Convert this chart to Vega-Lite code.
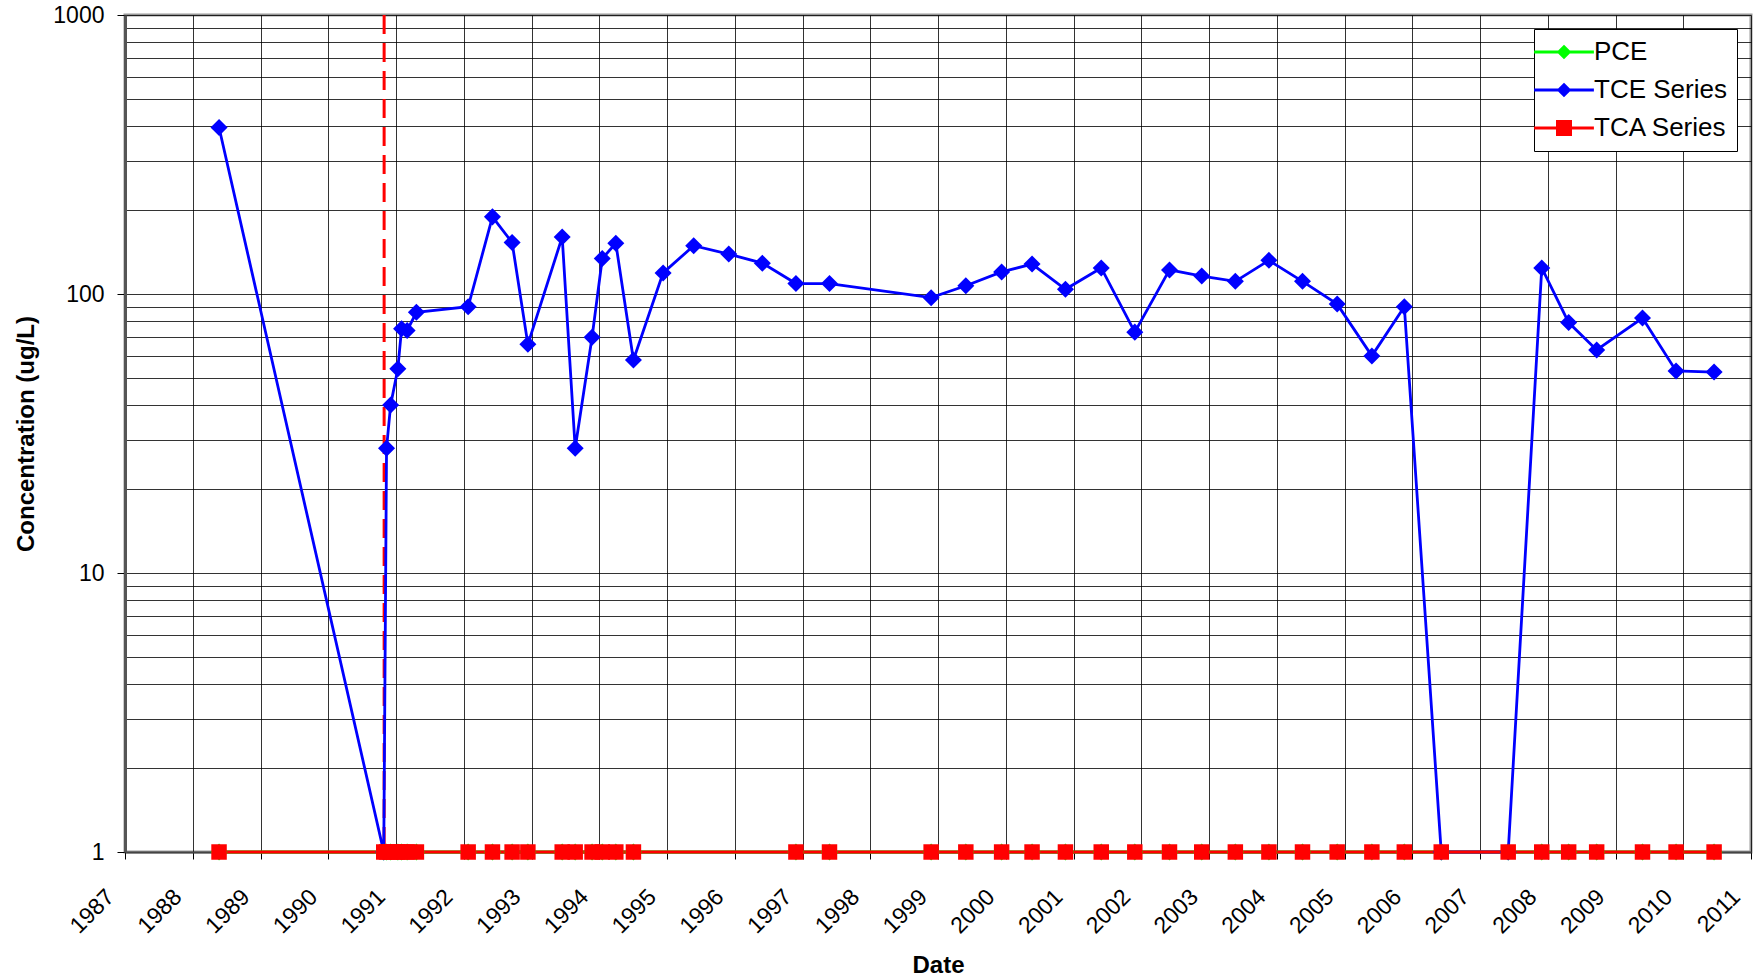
{
  "$schema": "https://vega.github.io/schema/vega-lite/v6.json",
  "width": 1626,
  "height": 837,
  "autosize": {"type": "none"},
  "padding": {"left": 125, "top": 15, "right": 3, "bottom": 125},
  "background": "white",
  "config": {
    "font": "Liberation Sans",
    "view": {"stroke": "#999999", "strokeWidth": 3},
    "axis": {
      "labelFont": "Liberation Sans",
      "labelFontSize": 23,
      "labelColor": "#000000",
      "titleFont": "Liberation Sans",
      "titleFontSize": 24,
      "titleFontWeight": "bold",
      "titleColor": "#000000",
      "tickColor": "#000000",
      "gridColor": "#000000",
      "gridOpacity": 0.8,
      "gridWidth": 1,
      "zindex": 0
    },
    "legend": {
      "orient": "top-right",
      "offset": 14,
      "padding": 10,
      "strokeColor": "#000000",
      "fillColor": "#FFFFFF",
      "labelFont": "Liberation Sans",
      "labelFontSize": 26,
      "labelColor": "#000000",
      "labelOffset": 17,
      "symbolOffset": 7,
      "rowPadding": 12,
      "symbolSize": 169,
      "symbolStrokeWidth": 3
    }
  },
  "datasets": {
    "measurements": [
      {"date": "1988-05-22", "series": "PCE", "value": 1},
      {"date": "1990-10-27", "series": "PCE", "value": 1},
      {"date": "1990-11-11", "series": "PCE", "value": 1},
      {"date": "1990-12-03", "series": "PCE", "value": 1},
      {"date": "1991-01-11", "series": "PCE", "value": 1},
      {"date": "1991-01-31", "series": "PCE", "value": 1},
      {"date": "1991-03-02", "series": "PCE", "value": 1},
      {"date": "1991-04-21", "series": "PCE", "value": 1},
      {"date": "1992-01-25", "series": "PCE", "value": 1},
      {"date": "1992-06-04", "series": "PCE", "value": 1},
      {"date": "1992-09-18", "series": "PCE", "value": 1},
      {"date": "1992-12-12", "series": "PCE", "value": 1},
      {"date": "1993-06-15", "series": "PCE", "value": 1},
      {"date": "1993-08-24", "series": "PCE", "value": 1},
      {"date": "1993-11-23", "series": "PCE", "value": 1},
      {"date": "1994-01-17", "series": "PCE", "value": 1},
      {"date": "1994-03-31", "series": "PCE", "value": 1},
      {"date": "1994-07-04", "series": "PCE", "value": 1},
      {"date": "1996-11-26", "series": "PCE", "value": 1},
      {"date": "1997-05-26", "series": "PCE", "value": 1},
      {"date": "1998-11-25", "series": "PCE", "value": 1},
      {"date": "1999-05-31", "series": "PCE", "value": 1},
      {"date": "1999-12-10", "series": "PCE", "value": 1},
      {"date": "2000-05-22", "series": "PCE", "value": 1},
      {"date": "2000-11-18", "series": "PCE", "value": 1},
      {"date": "2001-05-30", "series": "PCE", "value": 1},
      {"date": "2001-11-27", "series": "PCE", "value": 1},
      {"date": "2002-06-02", "series": "PCE", "value": 1},
      {"date": "2002-11-23", "series": "PCE", "value": 1},
      {"date": "2003-05-23", "series": "PCE", "value": 1},
      {"date": "2003-11-20", "series": "PCE", "value": 1},
      {"date": "2004-05-19", "series": "PCE", "value": 1},
      {"date": "2004-11-22", "series": "PCE", "value": 1},
      {"date": "2005-05-28", "series": "PCE", "value": 1},
      {"date": "2005-11-19", "series": "PCE", "value": 1},
      {"date": "2006-06-06", "series": "PCE", "value": 1},
      {"date": "2007-06-02", "series": "PCE", "value": 1},
      {"date": "2007-11-30", "series": "PCE", "value": 1},
      {"date": "2008-04-23", "series": "PCE", "value": 1},
      {"date": "2008-09-21", "series": "PCE", "value": 1},
      {"date": "2009-05-26", "series": "PCE", "value": 1},
      {"date": "2009-11-23", "series": "PCE", "value": 1},
      {"date": "2010-06-16", "series": "PCE", "value": 1},

      {"date": "1988-05-22", "series": "TCE Series", "value": 395},
      {"date": "1990-10-27", "series": "TCE Series", "value": 1},
      {"date": "1990-11-11", "series": "TCE Series", "value": 28},
      {"date": "1990-12-03", "series": "TCE Series", "value": 40},
      {"date": "1991-01-11", "series": "TCE Series", "value": 54},
      {"date": "1991-01-31", "series": "TCE Series", "value": 75},
      {"date": "1991-03-02", "series": "TCE Series", "value": 74},
      {"date": "1991-04-21", "series": "TCE Series", "value": 86},
      {"date": "1992-01-25", "series": "TCE Series", "value": 90},
      {"date": "1992-06-04", "series": "TCE Series", "value": 189},
      {"date": "1992-09-18", "series": "TCE Series", "value": 153},
      {"date": "1992-12-12", "series": "TCE Series", "value": 66},
      {"date": "1993-06-15", "series": "TCE Series", "value": 160},
      {"date": "1993-08-24", "series": "TCE Series", "value": 28},
      {"date": "1993-11-23", "series": "TCE Series", "value": 70},
      {"date": "1994-01-17", "series": "TCE Series", "value": 134},
      {"date": "1994-03-31", "series": "TCE Series", "value": 152},
      {"date": "1994-07-04", "series": "TCE Series", "value": 58},
      {"date": "1994-12-11", "series": "TCE Series", "value": 119},
      {"date": "1995-05-25", "series": "TCE Series", "value": 149},
      {"date": "1995-11-30", "series": "TCE Series", "value": 139},
      {"date": "1996-05-29", "series": "TCE Series", "value": 129},
      {"date": "1996-11-26", "series": "TCE Series", "value": 109},
      {"date": "1997-05-26", "series": "TCE Series", "value": 109},
      {"date": "1998-11-25", "series": "TCE Series", "value": 97},
      {"date": "1999-05-31", "series": "TCE Series", "value": 107},
      {"date": "1999-12-10", "series": "TCE Series", "value": 120},
      {"date": "2000-05-22", "series": "TCE Series", "value": 128},
      {"date": "2000-11-18", "series": "TCE Series", "value": 104},
      {"date": "2001-05-30", "series": "TCE Series", "value": 124},
      {"date": "2001-11-27", "series": "TCE Series", "value": 73},
      {"date": "2002-06-02", "series": "TCE Series", "value": 122},
      {"date": "2002-11-23", "series": "TCE Series", "value": 116},
      {"date": "2003-05-23", "series": "TCE Series", "value": 111},
      {"date": "2003-11-20", "series": "TCE Series", "value": 132},
      {"date": "2004-05-19", "series": "TCE Series", "value": 111},
      {"date": "2004-11-22", "series": "TCE Series", "value": 92},
      {"date": "2005-05-28", "series": "TCE Series", "value": 60},
      {"date": "2005-11-19", "series": "TCE Series", "value": 90},
      {"date": "2006-06-06", "series": "TCE Series", "value": 1},
      {"date": "2007-06-02", "series": "TCE Series", "value": 1},
      {"date": "2007-11-30", "series": "TCE Series", "value": 124},
      {"date": "2008-04-23", "series": "TCE Series", "value": 79},
      {"date": "2008-09-21", "series": "TCE Series", "value": 63},
      {"date": "2009-05-26", "series": "TCE Series", "value": 82},
      {"date": "2009-11-23", "series": "TCE Series", "value": 53},
      {"date": "2010-06-16", "series": "TCE Series", "value": 52.5},

      {"date": "1988-05-22", "series": "TCA Series", "value": 1},
      {"date": "1990-10-27", "series": "TCA Series", "value": 1},
      {"date": "1990-11-11", "series": "TCA Series", "value": 1},
      {"date": "1990-12-03", "series": "TCA Series", "value": 1},
      {"date": "1991-01-11", "series": "TCA Series", "value": 1},
      {"date": "1991-01-31", "series": "TCA Series", "value": 1},
      {"date": "1991-03-02", "series": "TCA Series", "value": 1},
      {"date": "1991-04-21", "series": "TCA Series", "value": 1},
      {"date": "1992-01-25", "series": "TCA Series", "value": 1},
      {"date": "1992-06-04", "series": "TCA Series", "value": 1},
      {"date": "1992-09-18", "series": "TCA Series", "value": 1},
      {"date": "1992-12-12", "series": "TCA Series", "value": 1},
      {"date": "1993-06-15", "series": "TCA Series", "value": 1},
      {"date": "1993-08-24", "series": "TCA Series", "value": 1},
      {"date": "1993-11-23", "series": "TCA Series", "value": 1},
      {"date": "1994-01-17", "series": "TCA Series", "value": 1},
      {"date": "1994-03-31", "series": "TCA Series", "value": 1},
      {"date": "1994-07-04", "series": "TCA Series", "value": 1},
      {"date": "1996-11-26", "series": "TCA Series", "value": 1},
      {"date": "1997-05-26", "series": "TCA Series", "value": 1},
      {"date": "1998-11-25", "series": "TCA Series", "value": 1},
      {"date": "1999-05-31", "series": "TCA Series", "value": 1},
      {"date": "1999-12-10", "series": "TCA Series", "value": 1},
      {"date": "2000-05-22", "series": "TCA Series", "value": 1},
      {"date": "2000-11-18", "series": "TCA Series", "value": 1},
      {"date": "2001-05-30", "series": "TCA Series", "value": 1},
      {"date": "2001-11-27", "series": "TCA Series", "value": 1},
      {"date": "2002-06-02", "series": "TCA Series", "value": 1},
      {"date": "2002-11-23", "series": "TCA Series", "value": 1},
      {"date": "2003-05-23", "series": "TCA Series", "value": 1},
      {"date": "2003-11-20", "series": "TCA Series", "value": 1},
      {"date": "2004-05-19", "series": "TCA Series", "value": 1},
      {"date": "2004-11-22", "series": "TCA Series", "value": 1},
      {"date": "2005-05-28", "series": "TCA Series", "value": 1},
      {"date": "2005-11-19", "series": "TCA Series", "value": 1},
      {"date": "2006-06-06", "series": "TCA Series", "value": 1},
      {"date": "2007-06-02", "series": "TCA Series", "value": 1},
      {"date": "2007-11-30", "series": "TCA Series", "value": 1},
      {"date": "2008-04-23", "series": "TCA Series", "value": 1},
      {"date": "2008-09-21", "series": "TCA Series", "value": 1},
      {"date": "2009-05-26", "series": "TCA Series", "value": 1},
      {"date": "2009-11-23", "series": "TCA Series", "value": 1},
      {"date": "2010-06-16", "series": "TCA Series", "value": 1}
    ],
    "marker": [
      {"date": "1990-10-29"}
    ]
  },
  "data": {"name": "measurements"},
  "layer": [
    {
      "data": {"name": "marker"},
      "mark": {"type": "rule", "color": "#FF0000", "strokeWidth": 3, "strokeDash": [19, 9]},
      "encoding": {
        "x": {"field": "date", "type": "temporal", "title": "Date"}
      }
    },
    {
      "transform": [{"filter": "datum.series === 'PCE'"}],
      "mark": {"type": "line", "color": "#00FF00", "strokeWidth": 3},
      "encoding": {
        "x": {"field": "date", "type": "temporal", "title": "Date"},
        "y": {"field": "value", "type": "quantitative", "title": "Concentration (ug/L)"}
      }
    },
    {
      "transform": [{"filter": "datum.series === 'TCE Series'"}],
      "mark": {"type": "line", "color": "#0000FF", "strokeWidth": 2.8},
      "encoding": {
        "x": {"field": "date", "type": "temporal", "title": "Date"},
        "y": {"field": "value", "type": "quantitative", "title": "Concentration (ug/L)"}
      }
    },
    {
      "transform": [{"filter": "datum.series === 'TCA Series'"}],
      "mark": {"type": "line", "color": "#FF0000", "strokeWidth": 3},
      "encoding": {
        "x": {"field": "date", "type": "temporal", "title": "Date"},
        "y": {"field": "value", "type": "quantitative", "title": "Concentration (ug/L)"}
      }
    },
    {
      "transform": [{"filter": "datum.series !== 'TCA Series'"}],
      "mark": {"type": "point", "shape": "diamond", "size": 290, "filled": true, "opacity": 1, "strokeWidth": 0},
      "encoding": {
        "x": {"field": "date", "type": "temporal", "title": "Date"},
        "y": {"field": "value", "type": "quantitative", "title": "Concentration (ug/L)"},
        "color": {
          "field": "series",
          "type": "nominal",
          "scale": {"domain": ["PCE", "TCE Series", "TCA Series"], "range": ["#00FF00", "#0000FF", "#FF0000"]},
          "legend": {
            "title": null,
            "symbolType": {"expr": "datum.value === 'TCA Series' ? 'M-4.6,0H4.6M-1,-1H1V1H-1Z' : 'M-4.6,0H4.6M0,-0.8L0.8,0L0,0.8L-0.8,0Z'"},
            "symbolStrokeColor": {"expr": "datum.value === 'PCE' ? '#00FF00' : (datum.value === 'TCE Series' ? '#0000FF' : '#FF0000')"}
          }
        }
      }
    },
    {
      "transform": [{"filter": "datum.series === 'TCA Series'"}],
      "mark": {"type": "point", "shape": "square", "size": 240, "filled": true, "opacity": 1, "strokeWidth": 0},
      "encoding": {
        "x": {
          "field": "date",
          "type": "temporal",
          "title": "Date",
          "scale": {"type": "utc", "domain": [{"year": 1987, "month": 1, "date": 1, "utc": true}, {"year": 2011, "month": 1, "date": 1, "utc": true}]},
          "axis": {
            "format": "%Y",
            "tickCount": {"interval": "year", "step": 1},
            "grid": true,
            "labelAngle": -45,
            "labelAlign": "right",
            "labelBaseline": "middle",
            "labelPadding": 34,
            "labelOffset": -15,
            "labelOverlap": false,
            "labelFlush": false,
            "labelBound": false,
            "tickSize": 7,
            "tickWidth": 1,
            "domainWidth": 2,
            "domainColor": "#444444",
            "titlePadding": 16
          }
        },
        "y": {
          "field": "value",
          "type": "quantitative",
          "title": "Concentration (ug/L)",
          "scale": {"type": "log", "domain": [1, 1000]},
          "axis": {
            "values": [1, 2, 3, 4, 5, 6, 7, 8, 9, 10, 20, 30, 40, 50, 60, 70, 80, 90, 100, 200, 300, 400, 500, 600, 700, 800, 900, 1000],
            "format": "d",
            "labelExpr": "indexof([1, 10, 100, 1000], datum.value) >= 0 ? datum.label : ''",
            "labelOverlap": false,
            "labelBound": false,
            "labelFlush": false,
            "grid": true,
            "tickSize": 8,
            "tickOpacity": {"condition": {"test": "indexof([1, 10, 100, 1000], datum.value) >= 0", "value": 1}, "value": 0},
            "labelPadding": 13,
            "domainWidth": 3,
            "domainColor": "#555555",
            "titlePadding": 14
          }
        },
        "color": {
          "field": "series",
          "type": "nominal",
          "scale": {"domain": ["PCE", "TCE Series", "TCA Series"], "range": ["#00FF00", "#0000FF", "#FF0000"]},
          "legend": {
            "title": null,
            "symbolType": {"expr": "datum.value === 'TCA Series' ? 'M-4.6,0H4.6M-1,-1H1V1H-1Z' : 'M-4.6,0H4.6M0,-0.8L0.8,0L0,0.8L-0.8,0Z'"},
            "symbolStrokeColor": {"expr": "datum.value === 'PCE' ? '#00FF00' : (datum.value === 'TCE Series' ? '#0000FF' : '#FF0000')"}
          }
        }
      }
    }
  ]
}
